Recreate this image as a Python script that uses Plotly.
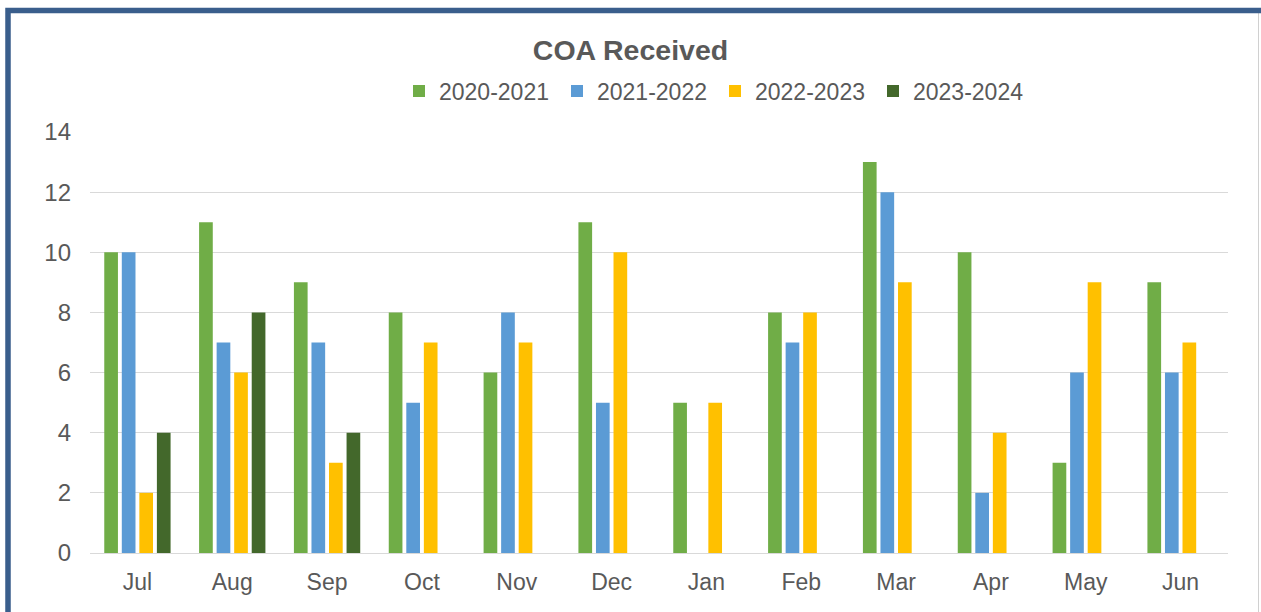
import plotly.graph_objects as go

months = ["Jul", "Aug", "Sep", "Oct", "Nov", "Dec", "Jan", "Feb", "Mar", "Apr", "May", "Jun"]
s2020 = [10, 11, 9, 8, 6, 11, 5, 8, 13, 10, 3, 9]
s2021 = [10, 7, 7, 5, 8, 5, None, 7, 12, 2, 6, 6]
s2022 = [2, 6, 3, 7, 7, 10, 5, 8, 9, 4, 9, 7]
s2023 = [4, 8, 4, None, None, None, None, None, None, None, None, None]

series = [
    ("2020-2021", s2020, "#70AD47"),
    ("2021-2022", s2021, "#5B9BD5"),
    ("2022-2023", s2022, "#FFC000"),
    ("2023-2024", s2023, "#43682B"),
]

W, H = 1261, 612
L, R, T, B = 90, 33, 132, 59
pw = W - L - R
ph = H - T - B

FONT = "Liberation Sans, Arial, sans-serif"

fig = go.Figure()
for name, vals, col in series:
    fig.add_trace(go.Bar(x=months, y=vals, name=name, marker=dict(color=col, line=dict(width=0))))

def px2x(px):
    return (px - L) / pw

def py2y(py):
    return (H - B - py) / ph

fig.update_layout(
    width=W, height=H,
    margin=dict(l=L, r=R, t=T, b=B),
    paper_bgcolor="white", plot_bgcolor="white",
    barmode="group", bargap=0.26, bargroupgap=0.22,
    font=dict(family=FONT, color="#595959", size=23),
    title=dict(text="<b>COA Received</b>", x=0.5, xanchor="center", y=1 - 50 / H, yanchor="middle",
               font=dict(size=28.5, color="#595959", family=FONT)),
    legend=dict(orientation="h", x=px2x(399), xanchor="left", y=py2y(91), yanchor="middle",
                font=dict(size=23, color="#595959"), itemwidth=30, traceorder="normal",
                entrywidth=113, entrywidthmode="pixels",
                bgcolor="rgba(0,0,0,0)"),
    xaxis=dict(showgrid=False, showline=True, linecolor="#D9D9D9", linewidth=1, ticks="",
               tickfont=dict(size=23, color="#595959"), ticklabelstandoff=8),
    yaxis=dict(range=[0, 14], dtick=2, showgrid=True, gridcolor="#D9D9D9", gridwidth=1,
               zeroline=False, showline=False, ticks="", tickfont=dict(size=24, color="#595959"),
               ticklabelstandoff=18),
    shapes=[
        dict(type="line", xref="paper", yref="paper", x0=px2x(1258.5), x1=px2x(1258.5), y0=py2y(12), y1=py2y(640),
             line=dict(color="#D0D0D0", width=1)),
        dict(type="rect", xref="paper", yref="paper", x0=px2x(8), x1=px2x(1270), y0=py2y(10.5), y1=py2y(640),
             line=dict(color="#3A5E8C", width=5.5), fillcolor="rgba(0,0,0,0)", layer="above"),
    ],
)

fig.write_html("out.html", config={"displayModeBar": False},
               post_script="document.body.style.margin='0';document.body.style.overflow='hidden';")
